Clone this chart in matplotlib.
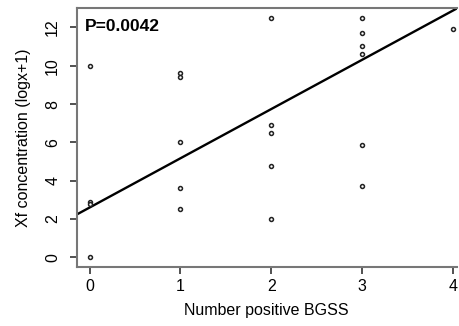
import matplotlib
matplotlib.use('Agg')
import matplotlib.pyplot as plt
import numpy as np

# number of positive BGSS and Xf concentration (logx+1)
n_bgss = [0, 0, 0, 0,
          1, 1, 1, 1, 1,
          2, 2, 2, 2, 2,
          3, 3, 3, 3, 3, 3,
          4]
xf_conc = [10.0, 2.9, 2.8, 0.0,
           9.6, 9.4, 6.0, 3.6, 2.5,
           12.5, 6.9, 6.5, 4.75, 2.0,
           12.5, 11.7, 11.0, 10.6, 5.85, 3.75,
           11.9]
fit_intercept = 2.6
fit_slope = 2.57
p_text = 'P=0.0042'

plt.rcParams['font.family'] = ['Liberation Sans', 'DejaVu Sans']

fig = plt.figure(figsize=(4.6, 3.26), dpi=100)
ax = fig.add_axes([0.167, 0.181, 0.826, 0.794])

ax.scatter(n_bgss, xf_conc, s=8, facecolors='white', edgecolors='#222222', linewidths=1.1, zorder=3)

xl = np.array([-0.14, 4.04])
ax.plot(xl, fit_intercept + fit_slope*xl, color='black', lw=1.7, zorder=2)

ax.set_xlim(-0.14, 4.04)
ax.set_ylim(-0.5, 13.0)
ax.set_xticks([0, 1, 2, 3, 4])
ax.set_yticks([0, 2, 4, 6, 8, 10, 12])
for lab in ax.get_yticklabels():
    lab.set_rotation(90)
    lab.set_va('center')
ax.tick_params(length=5, width=1.2, color='#333333', labelsize=11.5)
ax.tick_params(axis='y', pad=7)
ax.tick_params(axis='x', pad=4)

for s in ['left', 'bottom', 'top']:
    ax.spines[s].set_color('#777777')
    ax.spines[s].set_linewidth(1.5)
ax.spines['right'].set_visible(False)

ax.set_xlabel('Number positive BGSS', fontsize=11.5, labelpad=6)
ax.set_ylabel('Xf concentration (logx+1)', fontsize=11.5, labelpad=10)

ax.text(-0.05, 12.05, p_text, fontsize=12.5, fontweight='bold', va='center', ha='left')

plt.savefig('out.png', dpi=100)
